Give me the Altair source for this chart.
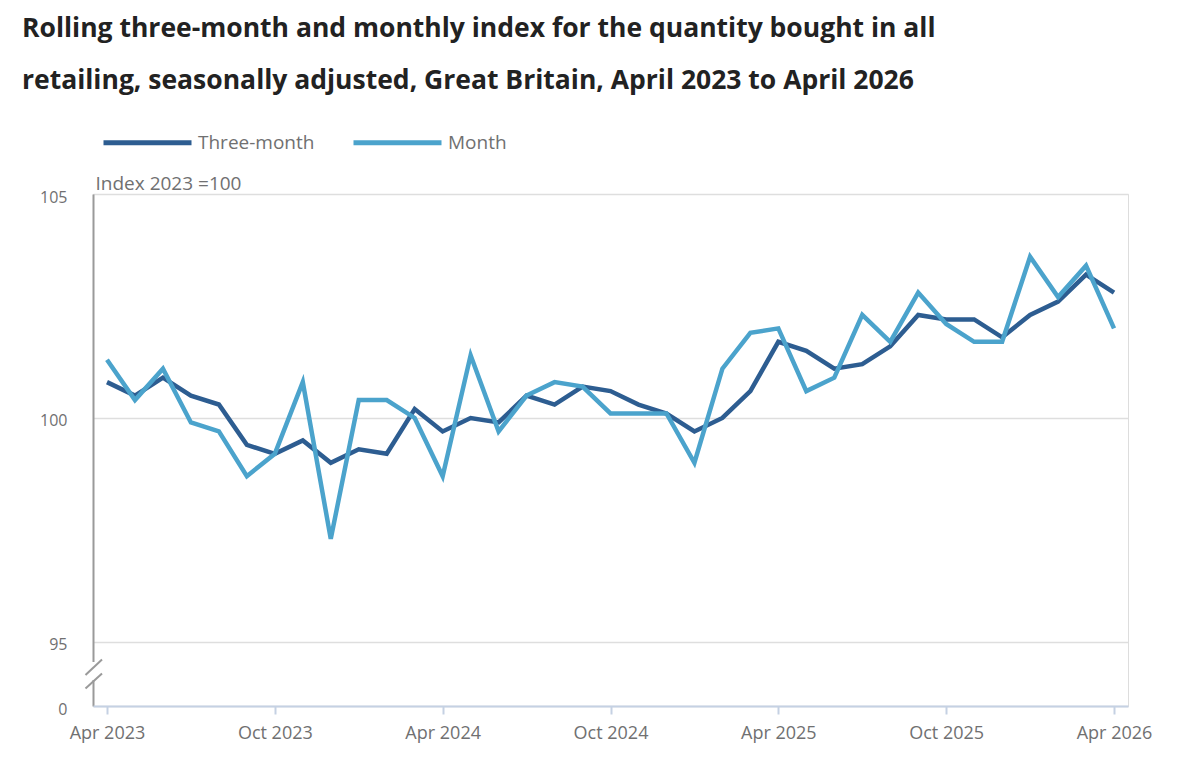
import altair as alt
import pandas as pd

tick_labels = ["Apr 2023", "Oct 2023", "Apr 2024", "Oct 2024", "Apr 2025", "Oct 2025", "Apr 2026"]
three_month = [100.8, 100.5, 100.9, 100.5, 100.3, 99.4, 99.2, 99.5, 99.0, 99.3, 99.2, 100.2,
               99.7, 100.0, 99.9, 100.5, 100.3, 100.7, 100.6, 100.3, 100.1, 99.7, 100.0, 100.6,
               101.7, 101.5, 101.1, 101.2, 101.6, 102.3, 102.2, 102.2, 101.8, 102.3, 102.6, 103.2,
               102.8]
month = [101.3, 100.4, 101.1, 99.9, 99.7, 98.7, 99.2, 100.8, 97.3, 100.4, 100.4, 100.0,
         98.7, 101.4, 99.7, 100.5, 100.8, 100.7, 100.1, 100.1, 100.1, 99.0, 101.1, 101.9,
         102.0, 100.6, 100.9, 102.3, 101.7, 102.8, 102.1, 101.7, 101.7, 103.6, 102.7, 103.4,
         102.0]
series_names = ["Three-month", "Month"]
colors = ["#2d5d91", "#4ba3cc"]

rows = []
for i, v in enumerate(three_month):
    rows.append({"idx": i, "value": v, "series": "Three-month", "order": 0})
for i, v in enumerate(month):
    rows.append({"idx": i, "value": v, "series": "Month", "order": 1})
df = pd.DataFrame(rows)

BREAK_LOW = 93.57  # where the axis shows "0" after the break

label_arr = "[" + ",".join("'%s'" % t for t in tick_labels) + "]"

x_enc = alt.X(
    "idx:Q",
    scale=alt.Scale(domain=[-0.5, 36.5], nice=False, zero=False),
    axis=alt.Axis(
        values=[0, 6, 12, 18, 24, 30, 36],
        labelExpr=label_arr + "[round(datum.value/6)]",
        title=None, grid=False,
        domainColor="#c5d1e3", domainWidth=2,
        tickColor="#c5d1e3", tickSize=8, tickWidth=2,
        labelColor="#707071", labelFont="Open Sans", labelFontSize=18,
        labelPadding=10, zindex=1,
    ),
)
y_enc = alt.Y(
    "value:Q",
    scale=alt.Scale(domain=[BREAK_LOW, 105], nice=False, zero=False),
    axis=alt.Axis(
        values=[BREAK_LOW, 95, 100, 105],
        labelExpr="datum.value < 94 ? '0' : format(datum.value, 'd')",
        title="Index 2023 =100", titleAngle=0, titleAlign="left", titleBaseline="alphabetic",
        titleX=2, titleY=-5, titleFont="Open Sans", titleFontSize=19, titleFontWeight="normal",
        titleColor="#707071",
        grid=True, gridColor="#dedede", gridWidth=1.5,
        ticks=False, domainColor="#9a9a9a", domainWidth=2,
        labelColor="#707071", labelFont="Open Sans", labelFontSize=16,
        labelPadding=26, labelOffset=3,
    ),
)

lines = alt.Chart(df).mark_line(strokeWidth=4.5).encode(
    x=x_enc,
    y=y_enc,
    color=alt.Color(
        "series:N",
        scale=alt.Scale(domain=series_names, range=colors),
        legend=alt.Legend(
            title=None, orient="none", direction="horizontal",
            legendX=8, legendY=-98,
            symbolType="stroke", symbolSize=7744, symbolStrokeWidth=5,
            labelFont="Open Sans", labelFontSize=19, labelColor="#707071",
            labelOffset=4, columnPadding=28,
        ),
    ),
    order=alt.Order("order:Q"),
    detail="series:N",
)

# axis-break marks
patch = alt.Chart(pd.DataFrame({"a": [0]})).mark_rect(color="white").encode(
    x=alt.value(-5), x2=alt.value(5), y=alt.value(468), y2=alt.value(486)
)
slash1 = alt.Chart(pd.DataFrame({"a": [0]})).mark_rule(color="#9a9a9a", strokeWidth=2).encode(
    x=alt.value(-7.5), y=alt.value(481), x2=alt.value(9), y2=alt.value(465.5)
)
slash2 = alt.Chart(pd.DataFrame({"a": [0]})).mark_rule(color="#9a9a9a", strokeWidth=2).encode(
    x=alt.value(-7.5), y=alt.value(494.5), x2=alt.value(9), y2=alt.value(479.5)
)

chart = alt.layer(lines, patch, slash1, slash2).properties(
    width=1035,
    height=512,
    autosize=alt.AutoSizeParams(type="none"),
    padding={"left": 85, "top": 186, "right": 60, "bottom": 50},
    title=alt.TitleParams(
        text=["Rolling three-month and monthly index for the quantity bought in all",
              "retailing, seasonally adjusted, Great Britain, April 2023 to April 2026"],
        anchor="start", frame="group", font="Open Sans", fontSize=26.5, fontWeight="bold",
        color="#222222", lineHeight=52, dx=-71, offset=2,
    ),
).configure_view(stroke=None).configure(background="white")

chart.save("out.html", embed_options={"renderer": "svg", "actions": False})
